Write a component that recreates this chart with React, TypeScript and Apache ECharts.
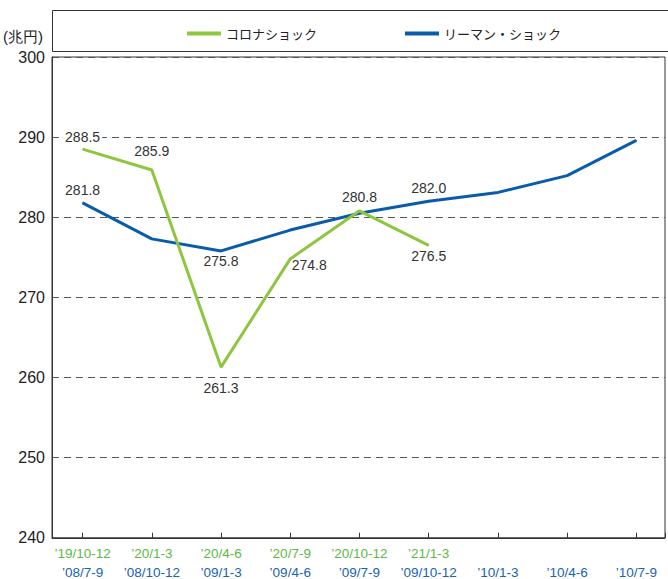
import React, { useEffect, useRef } from 'react';
import * as echarts from 'echarts';

const coronaName = 'コロナショック';
const lehmanName = 'リーマン・ショック';
const unitLabel = '(兆円)';
const coronaCategories = ['’19/10-12', '’20/1-3', '’20/4-6', '’20/7-9', '’20/10-12', '’21/1-3'];
const lehmanCategories = ['’08/7-9', '’08/10-12', '’09/1-3', '’09/4-6', '’09/7-9', '’09/10-12', '’10/1-3', '’10/4-6', '’10/7-9'];
const coronaValues = [288.5, 285.9, 261.3, 274.8, 280.8, 276.5];
const lehmanValues = [281.8, 277.3, 275.8, 278.4, 280.5, 282.0, 283.1, 285.2, 289.6];
const lehmanLabeled = [0, 2, 5];

const coronaLabelPos: any[] = [
  { position: 'top', distance: 5, backgroundColor: '#fff', padding: [0, 2] },
  { position: 'top', distance: 11 },
  { position: 'bottom', distance: 13 },
  { position: 'right', distance: 1, offset: [0, 6] },
  { position: 'top', distance: 6 },
  { position: 'bottom', distance: 3 },
];
const lehmanLabelPos: any = {
  0: { position: 'top', distance: 5 },
  2: { position: 'bottom', distance: 3 },
  5: { position: 'top', distance: 6 },
};

const FONT = "'Liberation Sans', Arial, 'Noto Sans CJK JP', sans-serif";
const JFONT = "'Noto Sans CJK JP', sans-serif";
const GREEN = '#8dc63f';
const BLUE = '#0a5cab';

export default function App() {
  const ref = useRef<HTMLDivElement>(null);
  useEffect(() => {
    if (!ref.current) return;
    const chart = echarts.init(ref.current, undefined, { renderer: 'svg' });
    const labelBase = { show: true, color: '#333', fontSize: 14, fontFamily: FONT };
    chart.setOption({
      animation: false,
      textStyle: { fontFamily: FONT },
      graphic: {
        elements: [
          {
            type: 'rect',
            left: 52,
            top: 10,
            shape: { x: 0, y: 0, width: 640, height: 41 },
            style: { fill: 'transparent', stroke: '#333', lineWidth: 1 },
          },
          {
            type: 'text',
            left: 3,
            top: 29,
            style: { text: unitLabel, fontSize: 15, fill: '#222', font: `15px ${JFONT}` },
          },
        ],
      },
      legend: {
        left: 182,
        top: 22,
        itemWidth: 34,
        itemHeight: 4,
        itemGap: 88,
        icon: 'rect',
        textStyle: { fontSize: 13, color: '#222', fontFamily: JFONT },
        data: [coronaName, lehmanName],
      },
      grid: {
        left: 52,
        right: -5,
        top: 57,
        bottom: 38,
        show: true,
        borderColor: '#333',
        borderWidth: 1,
        backgroundColor: 'transparent',
      },
      xAxis: {
        type: 'value',
        min: -0.442,
        max: 8.414,
        minInterval: 1,
        maxInterval: 1,
        axisLine: { show: true, onZero: false, lineStyle: { color: '#333', width: 1 } },
        axisTick: { show: true, inside: true, length: 5, lineStyle: { color: '#333' } },
        splitLine: { show: false },
        axisLabel: {
          margin: 6,
          formatter: (v: number) => {
            if (Math.abs(v - Math.round(v)) > 1e-6) return '';
            const i = Math.round(v);
            if (i < 0 || i >= lehmanCategories.length) return '';
            const g = coronaCategories[i] || ' ';
            return `{g|${g}}\n{b|${lehmanCategories[i]}}`;
          },
          rich: {
            g: { color: '#5cb947', fontSize: 13.5, lineHeight: 19, fontFamily: FONT },
            b: { color: '#1863b3', fontSize: 13.5, lineHeight: 19, fontFamily: FONT },
          },
        },
      },
      yAxis: {
        type: 'value',
        min: 240,
        max: 300,
        interval: 10,
        axisLine: { show: true, onZero: false, lineStyle: { color: '#333' } },
        axisTick: { show: false },
        axisLabel: { color: '#222', fontSize: 16, margin: 7, fontFamily: FONT },
        splitLine: { show: true, lineStyle: { color: '#555', type: [7, 5], width: 1 } },
      },
      series: [
        {
          name: coronaName,
          type: 'line',
          z: 3,
          symbol: 'circle',
          symbolSize: 1,
          lineStyle: { color: GREEN, width: 3 },
          itemStyle: { color: GREEN },
          data: coronaValues.map((v, i) => ({
            value: [i, v],
            label: { ...labelBase, ...coronaLabelPos[i], formatter: v.toFixed(1) },
          })),
        },
        {
          name: lehmanName,
          type: 'line',
          z: 2,
          symbol: 'circle',
          symbolSize: 1,
          lineStyle: { color: BLUE, width: 3 },
          itemStyle: { color: BLUE },
          data: lehmanValues.map((v, i) =>
            lehmanLabeled.includes(i)
              ? { value: [i, v], label: { ...labelBase, ...lehmanLabelPos[i], formatter: v.toFixed(1) } }
              : { value: [i, v], label: { show: false } }
          ),
        },
      ],
    });
    return () => chart.dispose();
  }, []);
  return (
    <div
      ref={ref}
      style={{ position: 'fixed', left: 0, top: 0, width: 668, height: 579, background: '#fff' }}
    />
  );
}
